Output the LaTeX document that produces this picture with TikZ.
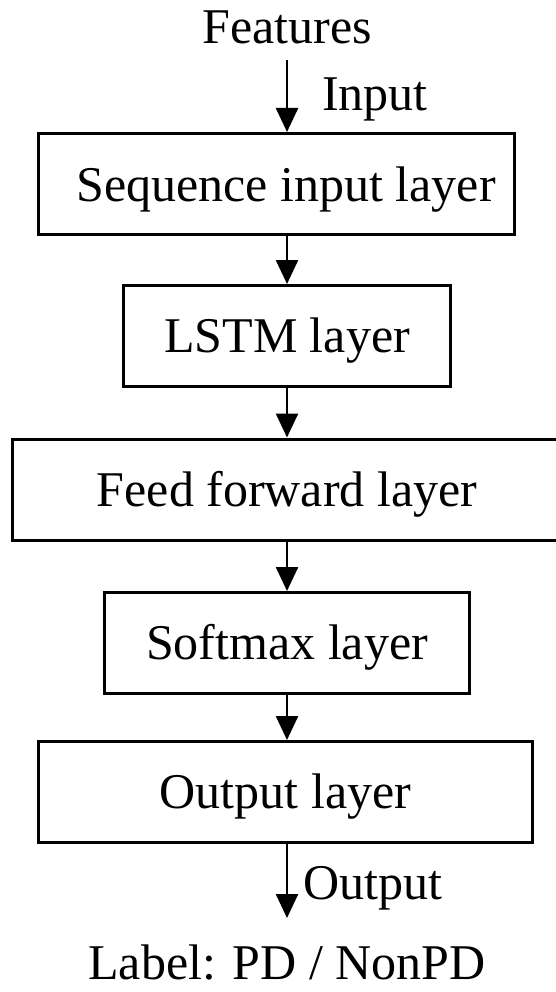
\documentclass[tikz,border=0pt]{standalone}
\usepackage{fontspec}
\setmainfont{Liberation Serif}
\usetikzlibrary{arrows.meta}

\tikzset{
  layer/.style={draw, line width=3pt, minimum height=101pt, inner sep=0pt,
    text height=33pt, text depth=0pt, font=\fontsize{50}{60}\selectfont},
  lbl/.style={inner sep=0pt, font=\fontsize{50}{60}\selectfont},
  flow/.style={-{Triangle[width=22pt,length=24pt]}, line width=2.5pt},
}

\begin{document}
\begin{tikzpicture}[x=1pt,y=1pt]
    \useasboundingbox (0,0) rectangle (556,-992);

    % Eingang
    \node[lbl] (feat) at (287,-27) {Features};
    \coordinate (featend) at (287,-60);

    % Schichten des Netzes
    \node[layer, minimum width=476pt] (seq) at (276.5,-184) {};
    \node[lbl, text height=33pt, text depth=0pt] (seqtxt) at (286,-185) {Sequence input layer};
    \node[layer, minimum width=327pt] (lstm) at (287,-336) {LSTM layer};
    \node[layer, minimum width=549pt] (ffw) at (287,-489.5) {Feed forward layer};
    \node[layer, minimum width=365pt] (soft) at (287,-643) {Softmax layer};
    \node[layer, minimum width=494pt] (outl) at (285.5,-792) {Output layer};

    % Ausgang
    \node[lbl] (result) at (287,-962) {Label: PD / NonPD};
    \coordinate (resend) at (287,-918);

    % Pfeile
    \draw[flow] (featend) -- (featend |- seq.north);
    \draw[flow] (featend |- seq.south) -- (lstm.north);
    \draw[flow] (lstm.south) -- (ffw.north);
    \draw[flow] (ffw.south) -- (soft.north);
    \draw[flow] (soft.south) -- (featend |- outl.north);
    \draw[flow] (featend |- outl.south) -- (resend);

    % Beschriftungen der Pfeile
    \node[lbl] (inlbl) at (375,-99) {Input};
    \node[lbl] (outlbl) at (373,-888) {Output};
\end{tikzpicture}
\end{document}
